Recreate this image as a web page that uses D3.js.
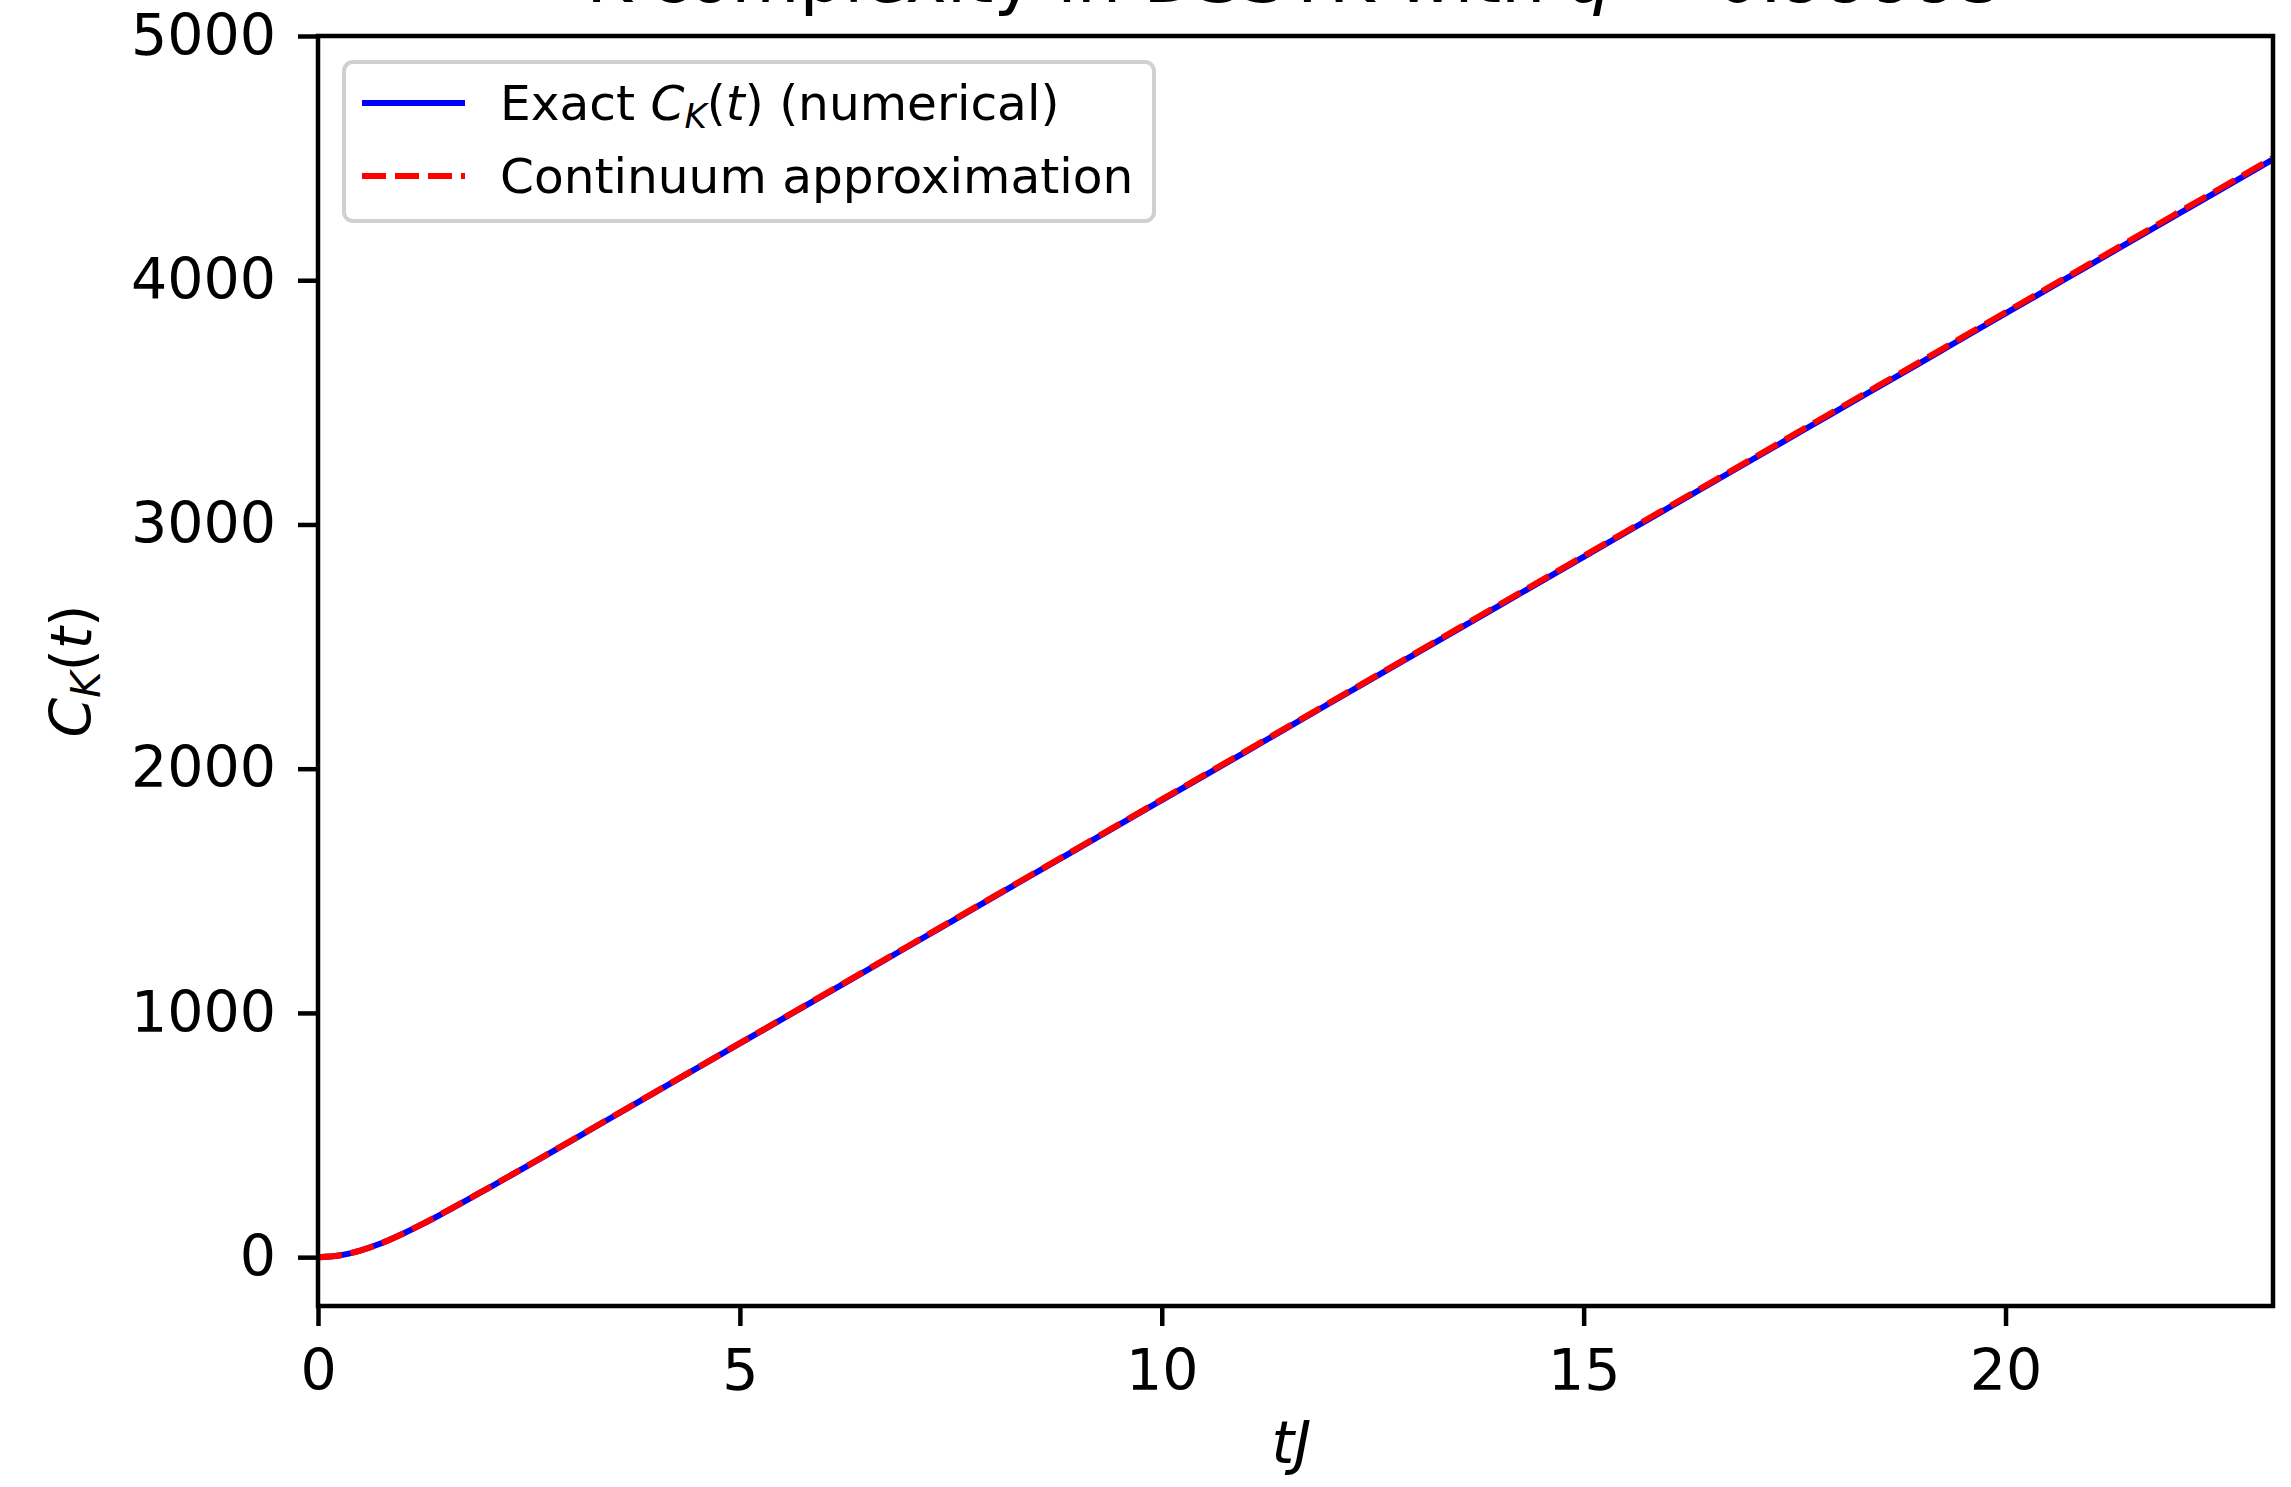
<!DOCTYPE html>
<html>
<head>
<meta charset="utf-8">
<script src="https://cdn.jsdelivr.net/npm/d3@7"></script>
<style>
  html, body { margin: 0; padding: 0; background: #ffffff; }
  svg { display: block; }
  text { font-family: "DejaVu Sans", sans-serif; fill: #000; }
</style>
</head>
<body>
<svg id="chart" width="2291" height="1487"></svg>
<script>
// ---- data ----
const tValues = [0, 0.25, 0.5, 0.75, 1, 1.25, 1.5, 2, 2.5, 3, 3.5, 4,
  5, 6, 7, 8, 9, 10, 11, 12, 13, 14, 15, 16, 17, 18, 19, 20, 21, 22, 23, 23.17];
const exactValues = [0, 7, 27, 57, 95, 137, 183, 279, 377, 476, 576, 676,
  875, 1074, 1273, 1473, 1672, 1871, 2070, 2270, 2469, 2668, 2867, 3067, 3266, 3465, 3664, 3864, 4063, 4262, 4461, 4495];
const continuumValues = [0, 7, 27, 57, 95, 138, 184, 280, 378, 477, 577, 677,
  876, 1076, 1275, 1475, 1674, 1874, 2073, 2273, 2472, 2672, 2871, 3071, 3270, 3470, 3669, 3869, 4068, 4268, 4467, 4501];
const xTicks = [0, 5, 10, 15, 20];
const yTicks = [0, 1000, 2000, 3000, 4000, 5000];
const xDomain = [0, 23.17];
const yDomain = [-200, 5000];
const seriesNames = ["Exact", "Continuum approximation"];

// ---- layout ----
const W = 2291, H = 1487;
const ax = {left: 318, right: 2273, top: 36, bottom: 1306};
const spineW = 4.5;
const tickFont = 57;
const legendFont = 48.6;

const svg = d3.select("#chart");
svg.append("rect").attr("width", W).attr("height", H).attr("fill", "#fff");

const x = d3.scaleLinear().domain(xDomain).range([ax.left, ax.right]);
const y = d3.scaleLinear().domain(yDomain).range([ax.bottom, ax.top]);

// clip
svg.append("defs").append("clipPath").attr("id", "clip")
  .append("rect").attr("x", ax.left).attr("y", ax.top)
  .attr("width", ax.right - ax.left).attr("height", ax.bottom - ax.top);

// series
const exactData = tValues.map((t, i) => ({t, v: exactValues[i]}));
const contData = tValues.map((t, i) => ({t, v: continuumValues[i]}));
const line = d3.line().x(d => x(d.t)).y(d => y(d.v)).curve(d3.curveMonotoneX);

const plot = svg.append("g").attr("clip-path", "url(#clip)");
plot.append("path").datum(exactData).attr("d", line)
  .attr("fill", "none").attr("stroke", "#0000ff").attr("stroke-width", 6);
plot.append("path").datum(contData).attr("d", line)
  .attr("fill", "none").attr("stroke", "#ff0000").attr("stroke-width", 6)
  .attr("stroke-dasharray", "24,9");

// axes
const xAxis = d3.axisBottom(x).tickValues(xTicks).tickFormat(d3.format("d"))
  .tickSize(20).tickPadding(24);
const yAxis = d3.axisLeft(y).tickValues(yTicks).tickFormat(d3.format("d"))
  .tickSize(20).tickPadding(22);

const gx = svg.append("g").attr("transform", `translate(0,${ax.bottom})`).call(xAxis);
const gy = svg.append("g").attr("transform", `translate(${ax.left},0)`).call(yAxis);
[gx, gy].forEach(g => {
  g.select(".domain").remove();
  g.selectAll(".tick line").attr("stroke", "#000").attr("stroke-width", spineW);
  g.selectAll(".tick text").attr("font-family", "DejaVu Sans").attr("font-size", tickFont).attr("fill", "#000");
});

// frame
svg.append("rect").attr("x", ax.left).attr("y", ax.top)
  .attr("width", ax.right - ax.left).attr("height", ax.bottom - ax.top)
  .attr("fill", "none").attr("stroke", "#000").attr("stroke-width", spineW);

// title (cut off at the top edge, as in the reference)
const title = svg.append("text").attr("x", (ax.left + ax.right) / 2).attr("y", 2)
  .attr("text-anchor", "middle").attr("font-size", 70);
title.append("tspan").text("K-complexity in DSSYK with ");
title.append("tspan").attr("font-style", "italic").text("q");
title.append("tspan").text(" = 0.99995");

// x label
svg.append("text").attr("x", (ax.left + ax.right) / 2 - 4).attr("y", 1463)
  .attr("text-anchor", "middle").attr("font-size", 58).attr("font-style", "italic")
  .text("tJ");

// y label
const yl = svg.append("text").attr("transform", `translate(91,${(ax.top + ax.bottom) / 2}) rotate(-90)`)
  .attr("text-anchor", "middle").attr("font-size", 57);
yl.append("tspan").attr("font-style", "italic").text("C");
yl.append("tspan").attr("font-style", "italic").attr("font-size", 40).attr("dy", 9).text("K");
yl.append("tspan").attr("dy", -9).text("(");
yl.append("tspan").attr("font-style", "italic").text("t");
yl.append("tspan").text(")");

// legend
const lg = svg.append("g");
lg.append("rect").attr("x", 344).attr("y", 62).attr("width", 810).attr("height", 159)
  .attr("rx", 9).attr("ry", 9)
  .attr("fill", "#fff").attr("fill-opacity", 0.8)
  .attr("stroke", "#d0d0d0").attr("stroke-width", 4);
const rows = [
  {y: 103, color: "#0000ff", dash: null},
  {y: 176, color: "#ff0000", dash: "24,9"}
];
rows.forEach(r => {
  const l = lg.append("line").attr("x1", 362).attr("x2", 465).attr("y1", r.y).attr("y2", r.y)
    .attr("stroke", r.color).attr("stroke-width", 6);
  if (r.dash) l.attr("stroke-dasharray", r.dash);
});
const t1 = lg.append("text").attr("x", 500).attr("y", 120).attr("font-size", legendFont);
t1.append("tspan").text(seriesNames[0] + " ");
t1.append("tspan").attr("font-style", "italic").text("C");
t1.append("tspan").attr("font-style", "italic").attr("font-size", 34).attr("dy", 8).text("K");
t1.append("tspan").attr("dy", -8).text("(");
t1.append("tspan").attr("font-style", "italic").text("t");
t1.append("tspan").text(") (numerical)");
lg.append("text").attr("x", 500).attr("y", 193).attr("font-size", legendFont).text(seriesNames[1]);
</script>
</body>
</html>
